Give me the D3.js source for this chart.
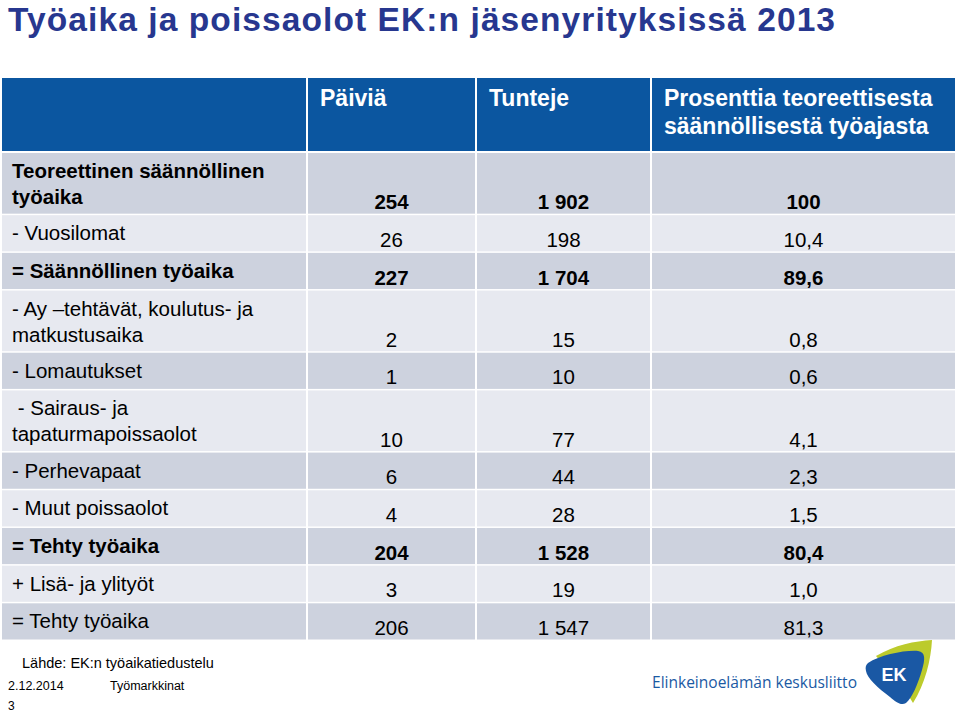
<!DOCTYPE html>
<html>
<head>
<meta charset="utf-8">
<script src="https://cdn.jsdelivr.net/npm/d3@7"></script>
<style>
  body { margin: 0; background: #fff; }
  svg { display: block; font-family: "Liberation Sans", Arial, sans-serif; }
  text { white-space: pre; }
</style>
</head>
<body>
<svg id="chart"></svg>
<script>
// data
var title = "Työaika ja poissaolot EK:n jäsenyrityksissä 2013";
var columns = ["Päiviä", "Tunteje", "Prosenttia teoreettisesta\nsäännöllisestä työajasta"];
var rowLabels = [
    "Teoreettinen säännöllinen\ntyöaika",
    "- Vuosilomat",
    "= Säännöllinen työaika",
    "- Ay –tehtävät, koulutus- ja\nmatkustusaika",
    "- Lomautukset",
    " - Sairaus- ja\ntapaturmapoissaolot",
    "- Perhevapaat",
    "- Muut poissaolot",
    "= Tehty työaika",
    "+ Lisä- ja ylityöt",
    "= Tehty työaika"
];
var days = [254, 26, 227, 2, 1, 10, 6, 4, 204, 3, 206];
var hours = [1902, 198, 1704, 15, 10, 77, 44, 28, 1528, 19, 1547];
var percent = [100, 10.4, 89.6, 0.8, 0.6, 4.1, 2.3, 1.5, 80.4, 1.0, 81.3];
var boldRows = [0, 2, 8];
var source = "Lähde: EK:n työaikatiedustelu";
var footDate = "2.12.2014", footTopic = "Työmarkkinat", pageNo = "3";
var orgName = "Elinkeinoelämän keskusliitto";

var svgWidth = 960, svgHeight = 713;
var svg = d3.select("#chart")
    .attr("width", svgWidth)
    .attr("height", svgHeight);

var fi = d3.formatLocale({ decimal: ",", thousands: "\u00a0", grouping: [3], currency: ["", ""] });
var fmtHours = fi.format(",d");
var fmtPct = function(v) { return v === 100 ? "100" : fi.format(".1f")(v); };

var colKeys = ["label", "days", "hours", "pct"];
var colLeft = d3.scaleOrdinal().domain(colKeys).range([2, 308, 477, 652]);
var colRight = d3.scaleOrdinal().domain(colKeys).range([306, 475, 650, 955]);
var colMid = function(k) { return (colLeft(k) + colRight(k)) / 2; };

// rows: two-line rows are a bit taller
var rows = rowLabels.map(function(l, i) {
    var lines = l.split("\n");
    return { i: i, lines: lines, w: 1 + 0.65 * (lines.length - 1),
             values: [String(days[i]), fmtHours(hours[i]), fmtPct(percent[i])],
             bold: boldRows.indexOf(i) >= 0 };
});
var cum = 0;
rows.forEach(function(r) { r.u0 = cum; cum += r.w; r.u1 = cum; });
var y = d3.scaleLinear().domain([0, cum]).range([153, 641]);

// title
svg.append("text")
    .attr("x", 8).attr("y", 31)
    .attr("fill", "#27378f")
    .attr("font-weight", "bold")
    .attr("font-size", "33.5px")
    .attr("textLength", 827)
    .attr("lengthAdjust", "spacing")
    .text(title);

// header
var headerTop = 78, headerBottom = 151;
colKeys.forEach(function(k) {
    svg.append("rect")
        .attr("x", colLeft(k)).attr("y", headerTop)
        .attr("width", colRight(k) - colLeft(k))
        .attr("height", headerBottom - headerTop)
        .attr("fill", "#0b56a0");
});
columns.forEach(function(c, j) {
    var t = svg.append("text")
        .attr("fill", "#fff")
        .attr("font-weight", "bold")
        .attr("font-size", "23px");
    c.split("\n").forEach(function(line, li) {
        t.append("tspan")
            .attr("x", colLeft(colKeys[j + 1]) + 12)
            .attr("y", headerTop + 28 + li * 28)
            .text(line);
    });
});

// body rows
var g = svg.append("g");
var rowG = g.selectAll("g.row").data(rows).enter().append("g").attr("class", "row");

colKeys.forEach(function(k) {
    rowG.append("rect")
        .attr("x", colLeft(k))
        .attr("y", function(d) { return y(d.u0); })
        .attr("width", colRight(k) - colLeft(k))
        .attr("height", function(d) { return y(d.u1) - y(d.u0) - 1.5; })
        .attr("fill", function(d) { return d.i % 2 === 0 ? "#cdd2de" : "#e7e9f0"; });
});

rowG.each(function(d) {
    var t = d3.select(this).append("text")
        .attr("fill", "#000")
        .attr("font-size", "20.5px")
        .attr("font-weight", d.bold ? "bold" : "normal");
    d.lines.forEach(function(line, li) {
        t.append("tspan")
            .attr("x", 12)
            .attr("y", y(d.u0) + 25 + li * 26)
            .text(line);
    });
});

colKeys.slice(1).forEach(function(k, j) {
    rowG.append("text")
        .attr("x", colMid(k))
        .attr("y", function(d) { return y(d.u1) - 6; })
        .attr("text-anchor", "middle")
        .attr("fill", "#000")
        .attr("font-size", "20.5px")
        .attr("font-weight", function(d) { return d.bold ? "bold" : "normal"; })
        .text(function(d) { return d.values[j]; });
});

// footer
svg.append("text").attr("x", 22).attr("y", 668)
    .attr("font-size", "14.5px").attr("fill", "#000").text(source);
svg.append("text").attr("x", 8).attr("y", 690)
    .attr("font-size", "12.5px").attr("fill", "#000").text(footDate);
svg.append("text").attr("x", 110).attr("y", 690)
    .attr("font-size", "12.5px").attr("fill", "#000").text(footTopic);
svg.append("text").attr("x", 8).attr("y", 710)
    .attr("font-size", "12px").attr("fill", "#000").text(pageNo);

// EK logo
svg.append("text").attr("x", 652).attr("y", 688)
    .attr("font-family", "'Open Sans', sans-serif")
    .attr("font-size", "16px").attr("fill", "#1b5aa3")
    .attr("textLength", 205)
    .attr("lengthAdjust", "spacingAndGlyphs")
    .text(orgName);
var logo = svg.append("g");
logo.append("path")
    .attr("d", "M876,656 C895,645 915,641 932,640 C931,660 925,684 913,703 L905,690 Z")
    .attr("fill", "#bccb2c");
logo.append("path")
    .attr("d", "M868,663 C880,655 905,650 918,651 C926,652 925,660 922,670 C918,684 912,698 906,703 C901,706 896,702 890,697 C878,688 867,678 866,671 C865,667 866,665 868,663 Z")
    .attr("fill", "#1a58a4");
logo.append("text").attr("x", 894).attr("y", 681)
    .attr("text-anchor", "middle")
    .attr("font-size", "18px").attr("font-weight", "bold")
    .attr("fill", "#fff")
    .text("EK");
</script>
</body>
</html>
